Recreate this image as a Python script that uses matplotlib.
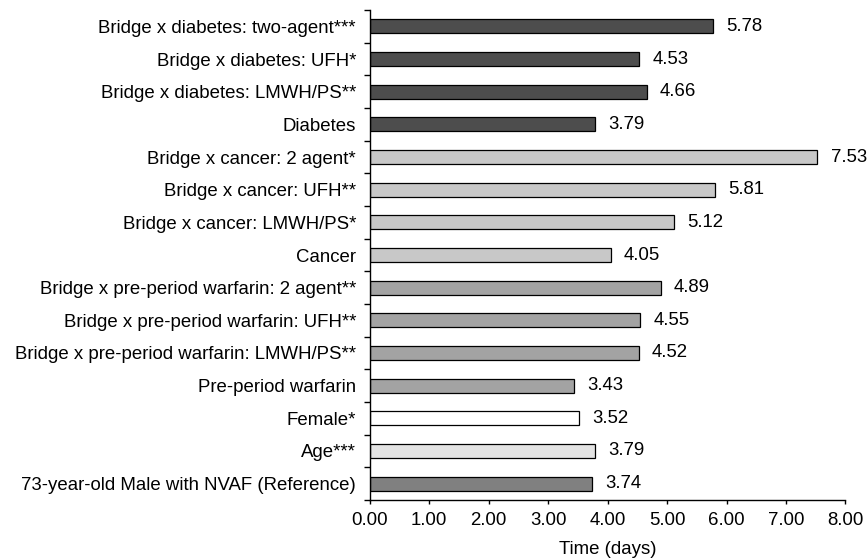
import matplotlib.pyplot as plt
import numpy as np

plt.rcParams["font.family"] = ["Liberation Sans", "DejaVu Sans"]

# listed bottom to top
labels = [
    "73-year-old Male with NVAF (Reference)",
    "Age***",
    "Female*",
    "Pre-period warfarin",
    "Bridge x pre-period warfarin: LMWH/PS**",
    "Bridge x pre-period warfarin: UFH**",
    "Bridge x pre-period warfarin: 2 agent**",
    "Cancer",
    "Bridge x cancer: LMWH/PS*",
    "Bridge x cancer: UFH**",
    "Bridge x cancer: 2 agent*",
    "Diabetes",
    "Bridge x diabetes: LMWH/PS**",
    "Bridge x diabetes: UFH*",
    "Bridge x diabetes: two-agent***",
]
values = [3.74, 3.79, 3.52, 3.43, 4.52, 4.55, 4.89, 4.05, 5.12, 5.81, 7.53,
          3.79, 4.66, 4.53, 5.78]
colors = (["#808080", "#e3e3e3", "#ffffff"]
          + ["#a3a3a3"] * 4 + ["#c8c8c8"] * 4 + ["#4d4d4d"] * 4)

fs = 13.4

fig = plt.figure(figsize=(8.68, 5.58), dpi=100)
ax = fig.add_axes([0.426, 0.104, 0.548, 0.878])

y = np.arange(len(labels))
ax.barh(y, values, height=0.43, color=colors, edgecolor="black", linewidth=0.9)
for yi, v in zip(y, values):
    ax.text(v + 0.22, yi, f"{v:.2f}", va="center", ha="left", fontsize=fs)

ax.set_ylim(-0.5, len(labels) - 0.5)
ax.set_yticks(y)
ax.set_yticklabels(labels, fontsize=fs)
ax.tick_params(axis="y", which="major", length=0, pad=10)
ax.set_yticks(np.arange(-0.5, len(labels)), minor=True)
ax.tick_params(axis="y", which="minor", length=4, width=1)

ax.set_xlim(0, 8)
ax.set_xticks(np.arange(0, 9))
ax.set_xticklabels([f"{t:.2f}" for t in range(9)], fontsize=fs)
ax.tick_params(axis="x", length=3, width=1, pad=6)
ax.set_xlabel("Time (days)", fontsize=fs, labelpad=8)

for s in ["top", "right"]:
    ax.spines[s].set_visible(False)
for s in ["left", "bottom"]:
    ax.spines[s].set_linewidth(1)

fig.savefig("out.png", dpi=100)
